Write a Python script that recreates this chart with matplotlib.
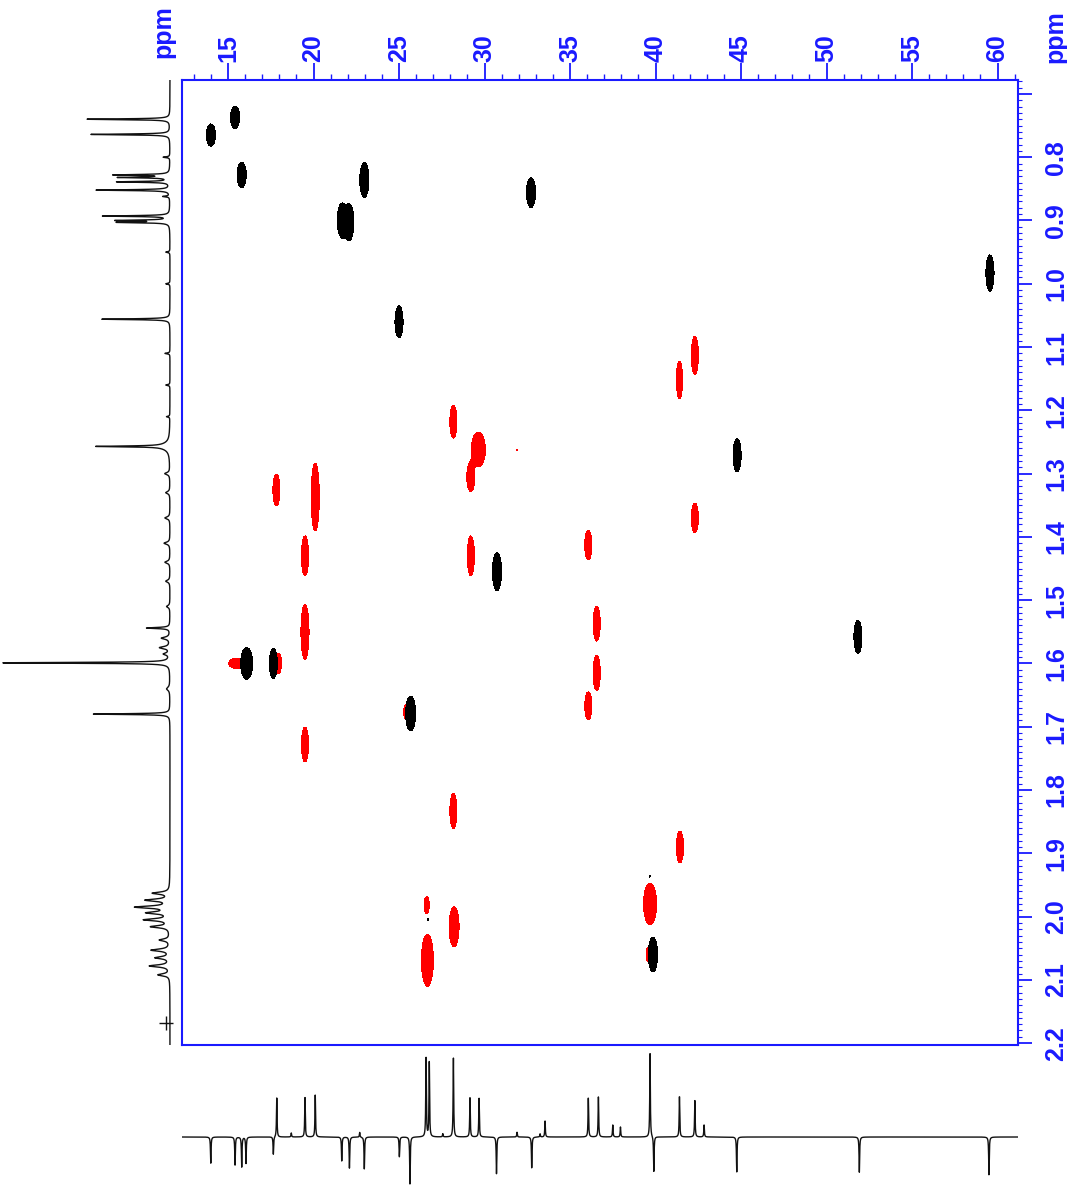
import matplotlib
matplotlib.use("Agg")
import matplotlib.pyplot as plt
from matplotlib.ticker import MultipleLocator, FuncFormatter
import numpy as np

plt.rcParams["font.family"] = ["Liberation Sans", "DejaVu Sans"]

# limites de los ejes (ppm)
c_lim = (12.31, 61.2)
h_lim = (2.203, 0.678)

# picos de correlacion HSQC: CH / CH3 (negro)
neg_c = [14.0, 15.41, 15.8, 22.97, 21.68, 22.07, 32.72, 25.0, 30.73, 16.09,
         17.65, 25.68, 26.68, 59.56, 44.77, 51.84, 39.85, 39.68]
neg_h = [0.765, 0.737, 0.828, 0.836, 0.900, 0.903, 0.856, 1.060, 1.455, 1.600,
         1.600, 1.679, 2.005, 0.983, 1.271, 1.558, 2.060, 1.936]
neg_wc = [0.53, 0.53, 0.53, 0.53, 0.58, 0.58, 0.53, 0.47, 0.53, 0.70,
          0.47, 0.58, 0.15, 0.47, 0.47, 0.47, 0.53, 0.15]
neg_wh = [0.035, 0.035, 0.040, 0.055, 0.055, 0.058, 0.047, 0.050, 0.060, 0.050,
          0.047, 0.055, 0.010, 0.057, 0.052, 0.052, 0.055, 0.008]
neg_amp = [1, 1, 1, 1, 1, 1, 1, 1, 1, 1, 1, 1, 0.2, 1, 1, 1, 1, 0.2]

# picos de correlacion HSQC: CH2 (rojo)
ch2_c = [28.18, 29.64, 29.20, 31.90, 17.83, 20.10, 19.50, 29.20, 36.07, 19.50,
         36.56, 36.56, 36.07, 15.50, 17.95, 25.45, 19.50, 28.18, 26.62, 28.22,
         26.66, 42.30, 41.40, 42.30, 41.43, 39.68, 39.60]
ch2_h = [1.218, 1.262, 1.305, 1.262, 1.326, 1.337, 1.430, 1.430, 1.413, 1.550,
         1.537, 1.615, 1.667, 1.600, 1.600, 1.677, 1.728, 1.833, 1.982, 2.016,
         2.069, 1.113, 1.152, 1.370, 1.890, 1.980, 2.060]
ch2_wc = [0.41, 0.82, 0.47, 0.12, 0.41, 0.47, 0.41, 0.41, 0.41, 0.47,
          0.41, 0.41, 0.41, 0.90, 0.35, 0.35, 0.41, 0.41, 0.29, 0.58,
          0.70, 0.41, 0.35, 0.41, 0.41, 0.76, 0.29]
ch2_wh = [0.052, 0.055, 0.047, 0.006, 0.050, 0.107, 0.063, 0.063, 0.047, 0.087,
          0.055, 0.055, 0.044, 0.016, 0.032, 0.024, 0.055, 0.055, 0.027, 0.063,
          0.082, 0.060, 0.060, 0.047, 0.050, 0.065, 0.024]
ch2_amp = [1, 1, 1, 0.2, 1, 1, 1, 1, 1, 1, 1, 1, 1, 1, 1, 1, 1, 1, 1, 1,
           1, 1, 1, 1, 1, 1, 1]

# espectro 1H (desplazamiento, intensidad relativa, anchura)
h1_shift = [0.740, 0.764, 0.800, 0.828, 0.832, 0.839, 0.852, 0.862, 0.893, 0.900,
            0.903, 0.950, 1.000, 1.056, 1.110, 1.160, 1.210, 1.257, 1.257, 1.300,
            1.330, 1.370, 1.410, 1.440, 1.470, 1.510, 1.544, 1.560, 1.575, 1.585,
            1.599, 1.640, 1.680, 1.963, 1.974, 1.985, 1.994, 2.005, 2.016, 2.037,
            2.053, 2.065, 2.078, 2.092]
h1_int = [0.497, 0.473, 0.040, 0.330, 0.300, 0.317, 0.443, 0.040, 0.400, 0.310,
          0.300, 0.025, 0.025, 0.410, 0.030, 0.025, 0.020, 0.395, 0.050, 0.030,
          0.025, 0.030, 0.035, 0.030, 0.025, 0.020, 0.140, 0.050, 0.060, 0.035,
          1.000, 0.020, 0.460, 0.100, 0.140, 0.200, 0.130, 0.150, 0.110, 0.060,
          0.110, 0.085, 0.120, 0.070]
h1_width = [0.0008] * 17 + [0.0008, 0.006] + [0.002] * 7 + [0.001, 0.002, 0.002, 0.002,
            0.0008, 0.003, 0.0008] + [0.002] * 11

# espectro DEPT-135 13C (positivo = CH2, negativo = CH/CH3)
c13_shift = [13.99, 15.41, 15.80, 16.05, 17.65, 21.65, 22.10, 22.97, 25.02, 25.64,
             30.70, 32.76, 39.90, 44.75, 51.92, 59.50,
             17.85, 18.70, 19.50, 20.10, 22.70, 26.58, 26.77, 27.56, 28.18, 29.15,
             29.68, 31.90, 33.25, 33.54, 36.07, 36.66, 37.50, 37.95, 39.68, 41.40,
             42.30, 42.84]
c13_int = [-0.33, -0.35, -0.375, -0.33, -0.22, -0.30, -0.39, -0.40, -0.25, -0.59,
           -0.46, -0.39, -0.44, -0.44, -0.44, -0.475,
           0.49, 0.05, 0.50, 0.525, 0.06, 1.00, 0.94, 0.04, 0.99, 0.49,
           0.49, 0.06, 0.04, 0.20, 0.49, 0.50, 0.15, 0.125, 1.05, 0.51,
           0.46, 0.15]


def mapa_2d(cs, hs, wcs, whs, amps, c_ax, h_ax):
    z = np.zeros((len(h_ax), len(c_ax)))
    for c, h, wc, wh, a in zip(cs, hs, wcs, whs, amps):
        gc = np.exp(-0.5 * ((c_ax - c) / (wc / 3.9)) ** 2)
        gh = np.exp(-0.5 * ((h_ax - h) / (wh / 3.9)) ** 2)
        z += a * np.outer(gh, gc)
    return z


def lorentz(x, centros, alturas, anchos):
    y = np.zeros_like(x)
    for x0, a, w in zip(centros, alturas, anchos):
        y += a / (1 + ((x - x0) / w) ** 2)
    return y


fig = plt.figure(figsize=(10.67, 11.85), dpi=100)
azul = "#1a1aff"

# panel principal HSQC
ax = fig.add_axes([0.1706, 0.1181, 0.7835, 0.8144])
c_ax = np.linspace(c_lim[0], c_lim[1], 1400)
h_ax = np.linspace(h_lim[1], h_lim[0], 1600)
z_neg = mapa_2d(ch2_c, ch2_h, ch2_wc, ch2_wh, ch2_amp, c_ax, h_ax)
z_pos = mapa_2d(neg_c, neg_h, neg_wc, neg_wh, neg_amp, c_ax, h_ax)
ax.contourf(c_ax, h_ax, z_neg, levels=[0.15, 100], colors=["red"])
ax.contourf(c_ax, h_ax, z_pos, levels=[0.15, 100], colors=["black"])
ax.set_xlim(c_lim)
ax.set_ylim(h_lim)

ax.xaxis.tick_top()
ax.yaxis.tick_right()
ax.xaxis.set_major_locator(MultipleLocator(5))
ax.xaxis.set_minor_locator(MultipleLocator(1))
ax.yaxis.set_major_locator(MultipleLocator(0.1))
ax.yaxis.set_minor_locator(MultipleLocator(0.01))
ax.yaxis.set_major_formatter(FuncFormatter(lambda v, p: f"{v:.1f}" if v > 0.75 else ""))
ax.tick_params(axis="x", which="major", length=12, width=1.3, color=azul,
               labelcolor=azul, labelsize=18, labelrotation=90, pad=1)
ax.tick_params(axis="x", which="minor", length=4, width=1.0, color=azul)
ax.tick_params(axis="y", which="major", length=10, width=1.3, color=azul,
               labelcolor=azul, labelsize=18, labelrotation=90, pad=9)
ax.tick_params(axis="y", which="minor", length=3, width=0.8, color=azul)
for lab in ax.get_yticklabels() + ax.get_xticklabels():
    lab.set_fontweight("bold")
for lab in ax.get_yticklabels():
    lab.set_va("center")
for s in ax.spines.values():
    s.set_color(azul)
    s.set_linewidth(1.5)

fig.text(163 / 1067, 1 - 32 / 1185, "ppm", rotation=90, ha="center", va="center",
         color=azul, fontsize=18, fontweight="bold")
fig.text(1055 / 1067, 1 - 37 / 1185, "ppm", rotation=90, ha="center", va="center",
         color=azul, fontsize=18, fontweight="bold")

# espectro 1H a la izquierda
ax1 = fig.add_axes([0.0, 0.1181, 180 / 1067, 0.8144])
h_grid = np.linspace(h_lim[1], h_lim[0], 8000)
ax1.plot(lorentz(h_grid, h1_shift, h1_int, h1_width), h_grid, color="#111111", lw=1.0)
ax1.plot([0.024], [2.168], marker="+", color="#111111", ms=10, mew=1.0)
ax1.set_xlim(1.018, -0.06)
ax1.set_ylim(h_lim)
ax1.axis("off")

# espectro DEPT abajo
ax2 = fig.add_axes([0.1706, 0.0, 0.7835, 137 / 1185])
c_grid = np.linspace(c_lim[0], c_lim[1], 10000)
ax2.plot(c_grid, lorentz(c_grid, c13_shift, c13_int, [0.02] * len(c13_shift)),
         color="#111111", lw=1.0)
ax2.set_xlim(c_lim)
ax2.set_ylim(-0.6, 1.1125)
ax2.axis("off")

fig.savefig("out.png", dpi=100)
